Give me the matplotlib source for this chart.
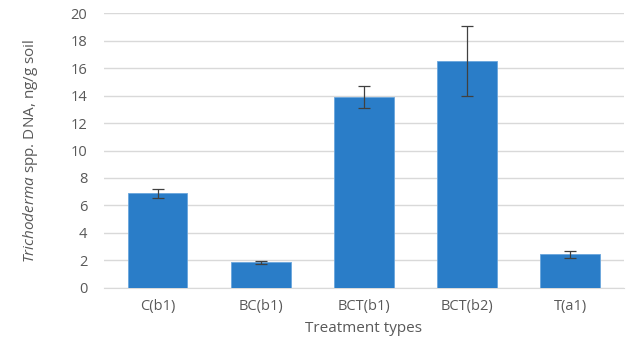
import matplotlib
matplotlib.use("Agg")
import matplotlib.pyplot as plt
import numpy as np

treatments = ["C(b1)", "BC(b1)", "BCT(b1)", "BCT(b2)", "T(a1)"]
dna = [6.9, 1.85, 13.9, 16.5, 2.45]
err = [0.33, 0.1, 0.8, 2.55, 0.25]
yticks = [0, 2, 4, 6, 8, 10, 12, 14, 16, 18, 20]

plt.rcParams["font.family"] = ["Open Sans", "DejaVu Sans"]
plt.rcParams["mathtext.fontset"] = "custom"
plt.rcParams["mathtext.it"] = "Open Sans:italic"
plt.rcParams["mathtext.rm"] = "Open Sans"

txt = "#595959"
fig = plt.figure(figsize=(6.3, 3.46), dpi=100)
ax = fig.add_axes([0.165, 0.168, 0.825, 0.794])

x = np.arange(len(treatments))
ax.bar(x, dna, width=0.58, color="#2a7dc8", edgecolor="#6aa6dc", linewidth=0.6,
       yerr=err, error_kw=dict(ecolor="#404040", elinewidth=0.9, capsize=4, capthick=0.9),
       zorder=3)

ax.set_ylim(0, 20)
ax.set_xlim(-0.52, 4.52)
ax.set_yticks(yticks)
ax.set_xticks(x)
ax.set_xticklabels(treatments)
ax.yaxis.grid(True, color="#d9d9d9", linewidth=1, zorder=0)
for s in ["top", "right", "left"]:
    ax.spines[s].set_visible(False)
ax.spines["bottom"].set_color("#d9d9d9")
ax.tick_params(length=0, colors=txt, labelsize=10.5)
ax.tick_params(axis="y", pad=12)
ax.tick_params(axis="x", pad=8)

ax.set_xlabel("Treatment types", color=txt, fontsize=11, labelpad=5)
ax.set_ylabel(r"$\it{Trichoderma}$ spp. DNA, ng/g soil", color=txt, fontsize=11, labelpad=22)

fig.savefig("out.png", dpi=100)
